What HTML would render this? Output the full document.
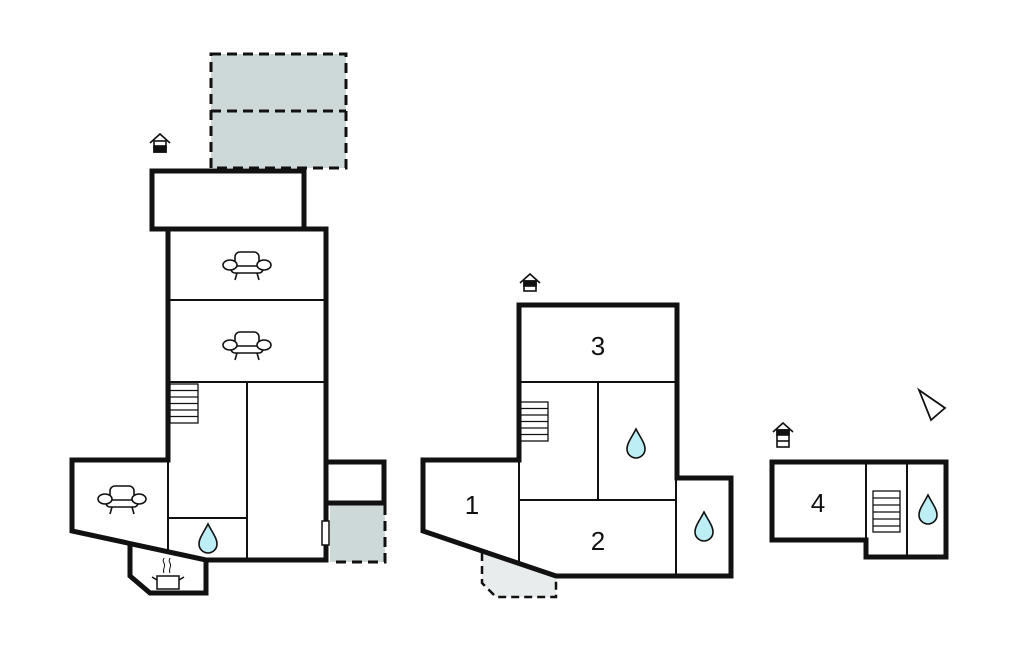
<!DOCTYPE html>
<html><head><meta charset="utf-8"><style>
html,body{margin:0;padding:0;background:#fff;width:1024px;height:652px;overflow:hidden}
svg{display:block}
text{font-family:"Liberation Sans",sans-serif;font-size:26px;fill:#111;text-anchor:middle}
</style></head><body>
<svg width="1024" height="652" viewBox="0 0 1024 652" xmlns="http://www.w3.org/2000/svg">
<defs>
<g id="sofa" fill="#fff" stroke="#111" stroke-width="1.6">
<path d="M-12,-3 v-5 a5,5 0 0 1 5,-5 h14 a5,5 0 0 1 5,5 v5"/>
<path d="M-16,0 v4 a4,4 0 0 0 4,4 h24 a4,4 0 0 0 4,-4 v-4"/>
<line x1="-16" y1="1" x2="16" y2="1"/>
<ellipse cx="-17" cy="0" rx="7" ry="5"/>
<ellipse cx="17" cy="0" rx="7" ry="5"/>
<path d="M-10,8 l-2,7 M10,8 l2,7" fill="none"/>
</g>
<path id="drop" d="M0,-15 C-4,-7 -9,-1 -9,5 A9,9 0 0 0 9,5 C9,-1 4,-7 0,-15 Z" fill="#bdeef5" stroke="#111" stroke-width="1.6"/>
<g id="stair" fill="#fff" stroke="#111" stroke-width="1.3">
<rect x="0" y="0" width="28" height="39"/>
<path d="M0,6.5 h28 M0,13 h28 M0,19.5 h28 M0,26 h28 M0,32.5 h28"/>
</g>
</defs>

<!-- LEFT BUILDING -->
<rect x="211" y="54" width="135" height="114" fill="#cdd8d9"/>
<g fill="none" stroke="#111" stroke-width="3" stroke-dasharray="10,6">
<rect x="211" y="54" width="135" height="114"/>
<line x1="211" y1="111" x2="346" y2="111"/>
</g>
<rect x="330" y="505" width="55" height="57" fill="#cdd8d9"/>
<path d="M385,505 V562 H330" fill="none" stroke="#111" stroke-width="3" stroke-dasharray="10,6"/>

<g stroke="#111" stroke-width="2" fill="none">
<line x1="168" y1="300" x2="326" y2="300"/>
<line x1="168" y1="382" x2="326" y2="382"/>
<line x1="247" y1="382" x2="247" y2="560"/>
<line x1="168" y1="518" x2="247" y2="518"/>
<line x1="168" y1="458" x2="168" y2="553"/>
</g>
<use href="#stair" x="170" y="384"/>

<g fill="none" stroke="#111" stroke-width="5" stroke-linejoin="miter">
<rect x="152" y="171" width="152" height="58"/>
<path d="M168,229 V460 H72 V531 L206,560 H326 V229 H304"/>
<path d="M130,544 V576 L150,593 H206 V560"/>
<path d="M326,462 H384 V503 H326"/>
<line x1="326" y1="503" x2="326" y2="562"/>
</g>
<rect x="322" y="521" width="7" height="24" fill="#fff" stroke="#111" stroke-width="1.5"/>

<use href="#sofa" x="247" y="265"/>
<use href="#sofa" x="247" y="345"/>
<use href="#sofa" x="122" y="499"/>
<use href="#drop" x="208" y="539"/>
<g stroke="#111" stroke-width="1.5" fill="#fff">
<rect x="157" y="576" width="22" height="13"/>
<path d="M157,580 l-5,-3 M179,580 l5,-3" fill="none"/>
<path d="M164,573 c-2,-4 2,-6 0,-10 c-2,-3 0,-4 0,-5 M170,573 c-2,-4 2,-6 0,-10 c-2,-3 0,-4 0,-5" fill="none" stroke-width="1"/>
</g>
<g stroke="#111" stroke-width="1.6" fill="#fff">
<path d="M150,143 L160,134 L170,143" fill="none"/>
<rect x="154" y="141" width="12" height="11"/>
<rect x="154" y="146" width="12" height="6" fill="#111"/>
</g>

<!-- MIDDLE BUILDING -->
<path d="M482,553 V583 L496,597 H556 V576 Z" fill="#e8eced"/>
<path d="M482,553 V583 L496,597 H556 V576" fill="none" stroke="#111" stroke-width="2.5" stroke-dasharray="8,5"/>
<g stroke="#111" stroke-width="2" fill="none">
<line x1="519" y1="382" x2="677" y2="382"/>
<line x1="598" y1="382" x2="598" y2="500"/>
<line x1="519" y1="500" x2="677" y2="500"/>
<line x1="519" y1="460" x2="519" y2="562"/>
<line x1="676" y1="478" x2="676" y2="576"/>
</g>
<use href="#stair" x="520" y="402"/>
<g fill="none" stroke="#111" stroke-width="5">
<path d="M519,460 V305 H677 V478 H731 V576 H556 L423,531 V460 Z"/>
</g>
<text x="598" y="355">3</text>
<text x="472" y="514">1</text>
<text x="598" y="550">2</text>
<use href="#drop" x="636" y="444"/>
<use href="#drop" x="704" y="527"/>
<g stroke="#111" stroke-width="1.6" fill="#fff">
<path d="M520,283 L530,274 L540,283" fill="none"/>
<rect x="524" y="281" width="12" height="10"/>
<rect x="524" y="281" width="12" height="5" fill="#111"/>
</g>

<!-- RIGHT BUILDING -->
<g stroke="#111" stroke-width="2" fill="none">
<line x1="866" y1="460" x2="866" y2="558"/>
<line x1="907" y1="460" x2="907" y2="558"/>
</g>
<rect x="873" y="491" width="27" height="41" fill="#fff" stroke="#111" stroke-width="1.3"/>
<path d="M873,498 h27 M873,505 h27 M873,512 h27 M873,519 h27 M873,526 h27" stroke="#111" stroke-width="1.3"/>
<path d="M772,462 H946 V557 H866 V540 H772 Z" fill="none" stroke="#111" stroke-width="5"/>
<text x="818" y="512">4</text>
<use href="#drop" x="928" y="510"/>
<g stroke="#111" stroke-width="1.6" fill="#fff">
<path d="M773,432 L783,423 L793,432" fill="none"/>
<rect x="777" y="430" width="12" height="17"/>
<rect x="777" y="430" width="12" height="5" fill="#111"/>
<line x1="777" y1="441" x2="789" y2="441"/>
</g>
<polygon points="919,390 945,408 931,420" fill="#fff" stroke="#111" stroke-width="1.8"/>
</svg>
</body></html>
